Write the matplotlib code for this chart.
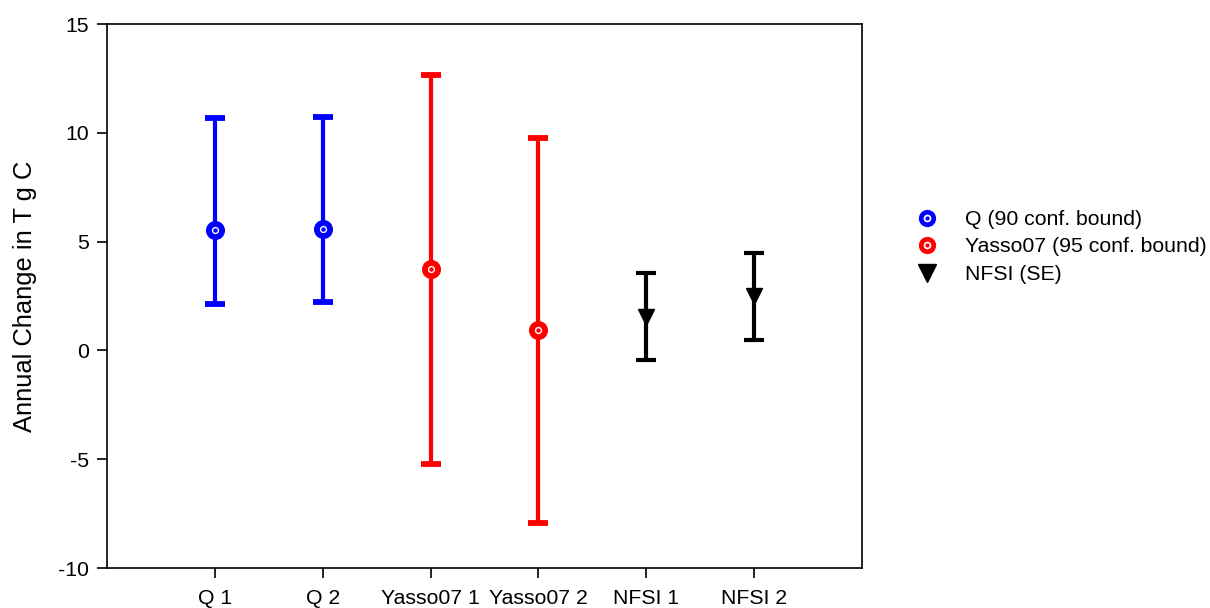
import matplotlib.pyplot as plt
from matplotlib.lines import Line2D
import numpy as np

plt.rcParams['font.family'] = ['Liberation Sans', 'DejaVu Sans']
plt.rcParams['axes.unicode_minus'] = False

# Donnees : variation annuelle du carbone (T g C) et bornes
labels = ['Q 1', 'Q 2', 'Yasso07 1', 'Yasso07 2', 'NFSI 1', 'NFSI 2']

q_mean = [5.53, 5.57]
q_low = [2.13, 2.22]
q_high = [10.70, 10.72]

yasso_mean = [3.74, 0.93]
yasso_low = [-5.22, -7.93]
yasso_high = [12.65, 9.76]

nfsi_mean = [1.55, 2.49]
nfsi_se = [2.0, 2.0]

x = np.arange(1, 7)

fig = plt.figure(figsize=(12.1, 6.08), dpi=100)
ax = fig.add_axes([107 / 1210, 40 / 608, 755 / 1210, 544 / 608])


def ring_series(xs, mean, low, high, color):
    mean = np.array(mean)
    err = [mean - np.array(low), np.array(high) - mean]
    ax.errorbar(xs, mean, yerr=err, fmt='o', color=color, ecolor=color,
                elinewidth=3, capsize=7, capthick=3,
                markersize=9.5, markerfacecolor='white', markeredgewidth=4.2,
                zorder=3)
    # petit point au centre du cercle
    ax.plot(xs, mean, 'o', color=color, markersize=2.2, zorder=4)


ring_series(x[0:2], q_mean, q_low, q_high, '#0000ff')
ring_series(x[2:4], yasso_mean, yasso_low, yasso_high, '#ff0000')

ax.errorbar(x[4:6], nfsi_mean, yerr=nfsi_se, fmt='v', color='black',
            elinewidth=3, capsize=7, capthick=3, markersize=12, zorder=3)

ax.set_xlim(0, 7)
ax.set_ylim(-10, 15)
ax.set_yticks([-10, -5, 0, 5, 10, 15])
ax.set_xticks(x)
ax.set_xticklabels(labels)
ax.tick_params(direction='out', length=7, width=1.2, labelsize=15.3, pad=6)
ax.tick_params(axis='x', pad=8)
for s in ax.spines.values():
    s.set_linewidth(1.2)

fig.text(25 / 1210, 1 - 296 / 608, 'Annual Change in T g C', rotation=90,
         ha='center', va='center', fontsize=18.4)


# legende sans barres d'erreur : cercle + point central
def ring_handle(color):
    ring = Line2D([], [], ls='none', marker='o', color=color, markerfacecolor='white',
                  markersize=9, markeredgewidth=3.4)
    dot = Line2D([], [], ls='none', marker='o', color=color, markersize=2)
    return (ring, dot)


handles = [
    ring_handle('#0000ff'),
    ring_handle('#ff0000'),
    Line2D([], [], ls='none', marker='v', color='black', markersize=12.5),
]
names = ['Q (90 conf. bound)', 'Yasso07 (95 conf. bound)', 'NFSI (SE)']
fig.legend(handles, names, loc='upper left', bbox_to_anchor=(915 / 1210, 1 - 210 / 608),
           frameon=False, fontsize=15.3, handletextpad=1.25,
           labelspacing=0.4, handlelength=1.1, borderaxespad=0, borderpad=0)

fig.savefig('out.png', dpi=100)
